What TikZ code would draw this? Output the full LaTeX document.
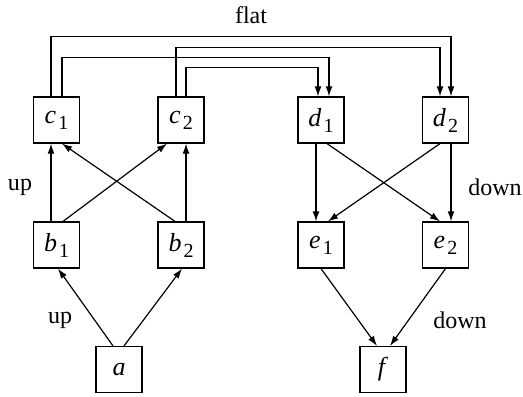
\documentclass[tikz,border=0pt]{standalone}
\usepackage{fontspec}
\setmainfont{Liberation Serif}
\usetikzlibrary{arrows.meta}
\newcommand{\vname}[2]{\textit{#1}\kern1pt\raisebox{-0.5ex}{\fontsize{10}{12}\selectfont #2}}

\begin{document}
\begin{tikzpicture}[x=0.5pt,y=-0.5pt,font=\fontsize{12}{14}\selectfont]
	\tikzstyle{vertex}=[draw, line width=0.6pt, minimum size=23pt, inner sep=0pt, font=\fontsize{13}{15}\selectfont]
	\tikzstyle{tag}=[inner sep=0pt]
	\tikzset{edge/.style = {-{Latex[length=5pt,width=3.4pt]}, line width=0.6pt}}
	\useasboundingbox (0,0) rectangle (523,396);

	\node[vertex](a) at (119,369.5) {\textit{a}};
	\node[vertex](b1) at (56.5,245) {\vname{b}{1}};
	\node[vertex](b2) at (181,245) {\vname{b}{2}};
	\node[vertex](c1) at (56.5,120) {\vname{c}{1}};
	\node[vertex](c2) at (181,120) {\vname{c}{2}};
	\node[vertex](d1) at (321,120) {\vname{d}{1}};
	\node[vertex](d2) at (445.5,120) {\vname{d}{2}};
	\node[vertex](e1) at (321,245) {\vname{e}{1}};
	\node[vertex](e2) at (445.5,245) {\vname{e}{2}};
	\node[vertex](f) at (383,369.5) {\textit{f}};

	% a up to b
	\draw[edge] ([xshift=-3pt]a.north) to ([xshift=0.75pt]b1.south);
	\draw[edge] ([xshift=2.5pt]a.north) to ([xshift=0.5pt]b2.south);
	% b up to c
	\draw[edge] ([xshift=-2.75pt]b1.north) to ([xshift=-2.75pt]c1.south);
	\draw[edge] ([xshift=3.25pt]b1.north) to ([xshift=-7pt]c2.south);
	\draw[edge] ([xshift=-3pt]b2.north) to ([xshift=2.75pt]c1.south);
	\draw[edge] ([xshift=2.5pt]b2.north) to ([xshift=2.5pt]c2.south);
	% c flat to d
	\draw[edge] ([xshift=-2.75pt]c1.north) -- ++(0,-60) -| ([xshift=2.75pt]d2.north);
	\draw[edge] ([xshift=-2.5pt]c2.north) -- ++(0,-49) -| ([xshift=-2.75pt]d2.north);
	\draw[edge] ([xshift=2.75pt]c1.north) -- ++(0,-39) -| ([xshift=4pt]d1.north);
	\draw[edge] ([xshift=2.5pt]c2.north) -- ++(0,-29) -| ([xshift=-1.5pt]d1.north);
	% d down to e
	\draw[edge] ([xshift=-2.5pt]d1.south) to ([xshift=-2.5pt]e1.north);
	\draw[edge] ([xshift=3pt]d1.south) to ([xshift=-2.75pt]e2.north);
	\draw[edge] ([xshift=-2.75pt]d2.south) to ([xshift=3.5pt]e1.north);
	\draw[edge] ([xshift=2.75pt]d2.south) to ([xshift=2.75pt]e2.north);
	% e down to f
	\draw[edge] (e1.south) to ([xshift=-3pt]f.north);
	\draw[edge] (e2.south) to ([xshift=3.5pt]f.north);

	\node[tag](flat) at (251,15) {flat};
	\node[tag](upbc) at (20,187) {up};
	\node[tag](upab) at (60,320) {up};
	\node[tag](downde) at (495,187) {down};
	\node[tag](downef) at (460,320) {down};

\end{tikzpicture}
\end{document}
